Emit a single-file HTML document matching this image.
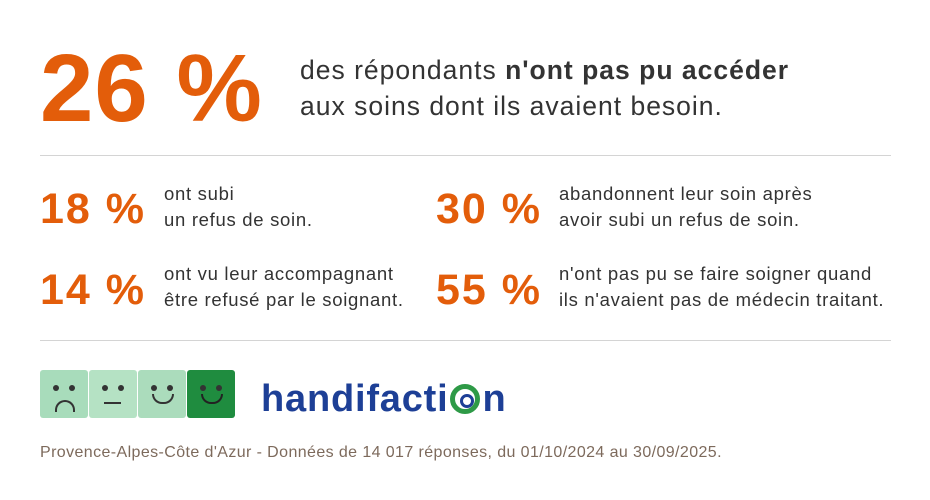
<!DOCTYPE html>
<html><head><meta charset="utf-8"><style>
body{margin:0;width:930px;height:500px;background:#fff;position:relative;overflow:hidden;font-family:"Liberation Sans",sans-serif}
.a{position:absolute;white-space:nowrap}
.o{color:#e35d0a;font-weight:bold}
.t{color:#333;font-size:18.5px;line-height:26px;letter-spacing:0.7px}
.hr{position:absolute;left:40px;width:851px;height:1px;background:#d4d4d4}
.cube{position:absolute;top:370px;width:48px;height:48px;border-radius:3px}
.eye{position:absolute;top:15px;width:6px;height:6px;border-radius:50%;background:#333}
</style></head><body>
<div class="a o" style="left:40px;top:34px;font-size:96px;line-height:110px;letter-spacing:1px">26 %</div>
<div class="a" style="left:300px;top:52px;font-size:26.5px;line-height:36px;color:#333;letter-spacing:1px">des répondants <b>n'ont pas pu accéder</b><br>aux soins dont ils avaient besoin.</div>
<div class="hr" style="top:155px"></div>
<div class="a o" style="left:40px;top:186px;font-size:43px;line-height:46px;letter-spacing:2px">18 %</div>
<div class="a t" style="left:164px;top:181px">ont subi<br>un refus de soin.</div>
<div class="a o" style="left:436px;top:186px;font-size:43px;line-height:46px;letter-spacing:2px">30 %</div>
<div class="a t" style="left:559px;top:181px">abandonnent leur soin après<br>avoir subi un refus de soin.</div>
<div class="a o" style="left:40px;top:267px;font-size:43px;line-height:46px;letter-spacing:2px">14 %</div>
<div class="a t" style="left:164px;top:261px">ont vu leur accompagnant<br>être refusé par le soignant.</div>
<div class="a o" style="left:436px;top:267px;font-size:43px;line-height:46px;letter-spacing:2px">55 %</div>
<div class="a t" style="left:559px;top:261px">n'ont pas pu se faire soigner quand<br>ils n'avaient pas de médecin traitant.</div>
<div class="hr" style="top:340px"></div>
<div class="cube" style="left:40px;background:#a8dcbb"><div class="eye" style="left:13px"></div><div class="eye" style="left:29px"></div><div style="position:absolute;left:15px;top:30px;width:16px;height:10px;border:2px solid #333;border-bottom:none;border-radius:10px 10px 0 0"></div></div>
<div class="cube" style="left:89px;background:#b5e2c4"><div class="eye" style="left:13px"></div><div class="eye" style="left:29px"></div><div style="position:absolute;left:15px;top:32px;width:17px;height:2px;background:#333"></div></div>
<div class="cube" style="left:138px;background:#abdcbc"><div class="eye" style="left:13px"></div><div class="eye" style="left:29px"></div><div style="position:absolute;left:14px;top:24px;width:18px;height:8px;border:2px solid #333;border-top:none;border-radius:0 0 10px 10px"></div></div>
<div class="cube" style="left:187px;background:#1f8c3f"><div class="eye" style="left:13px"></div><div class="eye" style="left:29px"></div><div style="position:absolute;left:14px;top:24px;width:18px;height:8px;border:2px solid #222;border-top:none;border-radius:0 0 10px 10px"></div></div>
<div class="a" style="left:261px;top:377px;font-size:38px;line-height:44px;font-weight:bold;color:#1d3f96;letter-spacing:0.8px">handifacti<span style="display:inline-block;width:30px;height:30px;border:5px solid #2e9a47;border-radius:50%;box-sizing:border-box;vertical-align:-3px;position:relative;margin:0 2px"><span style="position:absolute;left:5px;top:5px;width:8px;height:8px;border:3px solid #1d3f96;border-radius:50%"></span></span>n</div>
<div class="a" style="left:40px;top:443px;font-size:16px;line-height:20px;color:#7d6a5c;letter-spacing:0.4px">Provence-Alpes-Côte d'Azur - Données de 14 017 réponses, du 01/10/2024 au 30/09/2025.</div>
</body></html>
